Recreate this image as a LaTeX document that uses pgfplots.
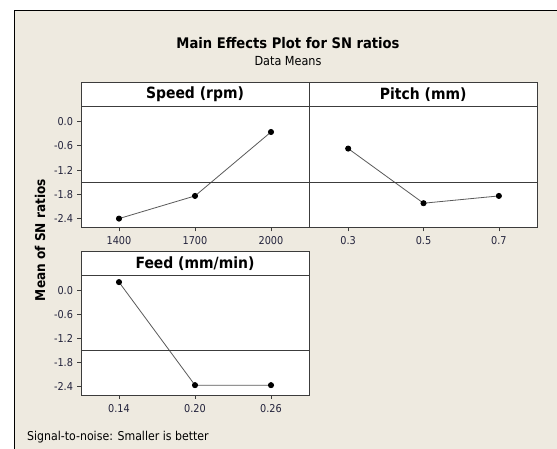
\documentclass[border=0pt]{standalone}
\usepackage{pgfplots}
\pgfplotsset{compat=1.18}
\usepackage{fontspec}
\setmainfont{DejaVu Sans Condensed}
\definecolor{bgc}{RGB}{238,234,224}
\definecolor{framec}{RGB}{60,60,60}
\definecolor{tickc}{RGB}{35,35,60}
\definecolor{linec}{RGB}{90,90,90}
\pgfplotsset{
  panel/.style={
    scale only axis,
    axis background/.style={fill=white},
    axis line style={framec, line width=0.9pt},
    xmin=-0.5, xmax=2.5,
    ymin=-2.615, ymax=0.37,
    xtick={0,1,2},
    ytick={0,-0.6,-1.2,-1.8,-2.4},
    tick align=outside,
    major tick length=4pt,
    tick style={framec, line width=0.7pt},
    xtick pos=bottom,
    ytick pos=left,
    every tick label/.append style={font=\fontsize{10.8}{12}\selectfont, text=tickc},
    xticklabel style={yshift=-1.5pt},
    yticklabel style={xshift=-0.5pt},
    /pgf/number format/.cd, fixed, fixed zerofill, precision=1, assume math mode=true,
  },
  effect/.style={linec, line width=0.8pt, mark=*, mark size=2.6pt, mark options={black, fill=black}},
  meanline/.style={framec, line width=0.8pt, forget plot},
}
\begin{document}
\begin{tikzpicture}[x=1pt,y=1pt]
\path[use as bounding box] (0,0) rectangle (557,449);
\fill[white] (0,0) rectangle (557,449);
\fill[bgc] (14,-5) rectangle (565,438.3);
\draw[black, line width=0.9pt] (14,-5) -- (14,438.3) -- (565,438.3);

% Title
\node[font=\fontsize{14.6}{18}\selectfont\bfseries] at (288,406) {Main Effects Plot for SN ratios};
\node[font=\fontsize{12.5}{14}\selectfont] at (288,388) {Data Means};

% Panel 1: Speed
\begin{axis}[panel, at={(81pt,221.7pt)}, anchor=south west, width=228pt, height=120.8pt,
  xticklabels={1400,1700,2000}]
\addplot[effect] coordinates {(0,-2.40) (1,-1.84) (2,-0.26)};
\addplot[meanline] coordinates {(-0.5,-1.51) (2.5,-1.51)};
\end{axis}

% Panel 2: Pitch
\begin{axis}[panel, at={(309pt,221.7pt)}, anchor=south west, width=228.3pt, height=120.8pt,
  xmin=-0.52, xmax=2.51, ytick=\empty,
  xticklabels={0.3,0.5,0.7}]
\addplot[effect] coordinates {(0,-0.67) (1,-2.02) (2,-1.84)};
\addplot[meanline] coordinates {(-0.52,-1.51) (2.51,-1.51)};
\end{axis}

% Panel 3: Feed
\begin{axis}[panel, at={(81pt,54pt)}, anchor=south west, width=228pt, height=119.7pt,
  xticklabels={0.14,0.20,0.26}]
\addplot[effect] coordinates {(0,0.20) (1,-2.37) (2,-2.37)};
\addplot[meanline] coordinates {(-0.5,-1.51) (2.5,-1.51)};
\end{axis}

% Headers
\draw[framec, line width=0.9pt, fill=white] (81,342.5) rectangle (309,366.3);
\draw[framec, line width=0.9pt, fill=white] (309,342.5) rectangle (537.3,366.3);
\draw[framec, line width=0.9pt, fill=white] (81,173.7) rectangle (309,197.3);
\node[font=\fontsize{15.5}{18}\selectfont\bfseries] at (195,354.4) {Speed (rpm)};
\node[font=\fontsize{15.5}{18}\selectfont\bfseries] at (423.2,354.4) {Pitch (mm)};
\node[font=\fontsize{15.5}{18}\selectfont\bfseries] at (195,185.5) {Feed (mm/min)};

% Y label
\node[font=\fontsize{13.5}{15}\selectfont\bfseries, rotate=90] at (40,209) {Mean of SN ratios};

% Footnote
\node[font=\fontsize{12.2}{14}\selectfont, anchor=west, inner sep=0pt] at (27,12) {Signal-to-noise: Smaller is better};
\end{tikzpicture}
\end{document}
